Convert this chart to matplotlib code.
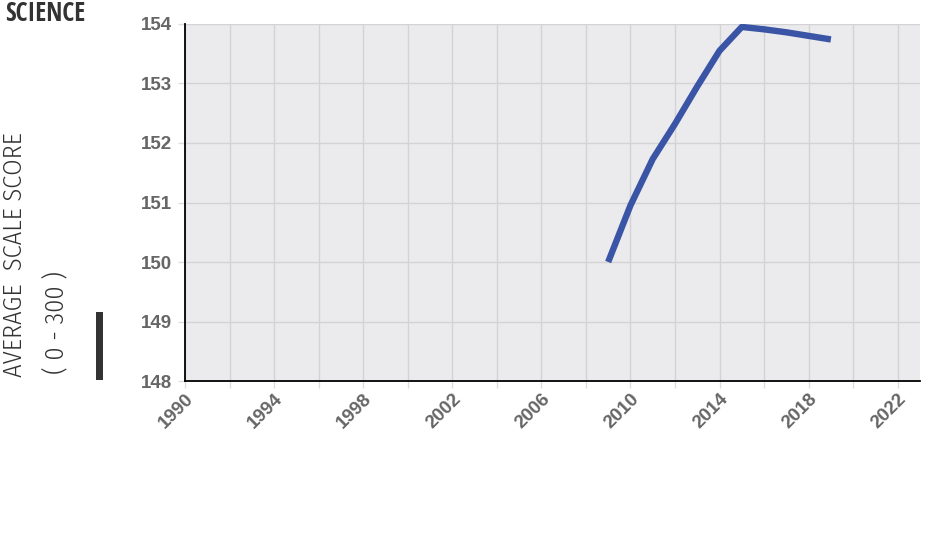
import matplotlib
matplotlib.use("Agg")
import matplotlib.pyplot as plt
from matplotlib import font_manager
import numpy as np

years = [2009, 2010, 2011, 2012, 2013, 2014, 2015, 2016, 2017, 2018, 2019]
scores = [150.0, 150.95, 151.73, 152.32, 152.95, 153.55, 153.95, 153.91, 153.86, 153.80, 153.74]
x_ticks = [1990, 1994, 1998, 2002, 2006, 2010, 2014, 2018, 2022]
y_ticks = [148, 149, 150, 151, 152, 153, 154]

names = {f.name for f in font_manager.fontManager.ttflist}


def pick(options, default="DejaVu Sans"):
    for o in options:
        if o in names:
            return o
    return default


cond_bold = pick(["Open Sans Condensed", "Roboto Condensed", "Fira Sans Condensed",
                  "PT Sans Narrow", "Archivo Narrow", "Asap Condensed"])
cond_light = pick(["Fira Sans Condensed", "Roboto Condensed", "Barlow Condensed",
                   "Asap Condensed", "Archivo Narrow"])
helv = pick(["Liberation Sans", "Arimo", "DejaVu Sans"])

fig = plt.figure(figsize=(9.5, 5.4), dpi=100)
ax = fig.add_axes([0.1947, 0.2944, 0.9684 - 0.1947, 0.9556 - 0.2944])
ax.set_facecolor("#EBEBEE")
ax.plot(years, scores, color="#3A55A5", lw=4.6, solid_capstyle="butt", solid_joinstyle="round", zorder=3)

ax.set_xlim(1990, 2023)
ax.set_ylim(148, 154)
ax.set_xticks(x_ticks)
ax.set_xticks(np.arange(1990, 2023, 2), minor=True)
ax.set_yticks(y_ticks)
ax.grid(True, which="both", color="#D3D3D6", lw=1.0, zorder=0)
ax.set_axisbelow(True)
for s in ["top", "right"]:
    ax.spines[s].set_visible(False)
for s in ["left", "bottom"]:
    ax.spines[s].set_color("black")
    ax.spines[s].set_linewidth(1.3)
ax.tick_params(axis="both", which="both", length=5, color="#DDDDDD", width=1)
ax.tick_params(axis="y", labelsize=13.5, labelcolor="#666666", pad=4)
ax.tick_params(axis="x", labelsize=13.5, labelcolor="#666666", pad=2)
for lab in ax.get_yticklabels():
    lab.set_fontweight("bold")
    lab.set_family(helv)
for lab in ax.get_xticklabels():
    lab.set_fontweight("bold")
    lab.set_family(helv)
    lab.set_rotation(45)
    lab.set_ha("right")
    lab.set_rotation_mode("anchor")

fig.text(0.005, 0.975, "SCIENCE", fontsize=18.5, fontweight="bold", color="#333333",
         family=cond_bold, ha="left", va="center")
fig.text(15 / 950, 1 - 255 / 540, "AVERAGE  SCALE SCORE", rotation=90, fontsize=19,
         color="#333333", family=cond_light, fontweight=300, ha="center", va="center")
fig.text(57 / 950, 1 - 322 / 540, "( 0 - 300 )", rotation=90, fontsize=19,
         color="#333333", family=cond_light, fontweight=300, ha="center", va="center")
fig.add_artist(plt.Rectangle((95.5 / 950, 1 - 380 / 540), 7 / 950, 68 / 540,
                             transform=fig.transFigure, color="#333333", lw=0))

fig.savefig("out.png", dpi=100)
